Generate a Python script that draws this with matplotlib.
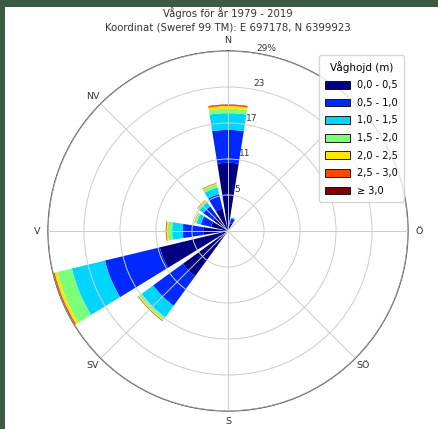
import numpy as np
import matplotlib
matplotlib.use("Agg")
import matplotlib.pyplot as plt
from matplotlib.patches import Rectangle, Patch

plt.rcParams['font.family'] = ['DejaVu Sans']

# Wave directions (16 sectors, clockwise from north)
directions = ["N", "NNÖ", "NÖ", "ÖNÖ", "Ö", "ÖSÖ", "SÖ", "SSÖ",
              "S", "SSV", "SV", "VSV", "V", "VNV", "NV", "NNV"]

# Frequency (%) per wave-height class and direction
h_00_05 = [11.0, 1.3, 0.1, 0.05, 0.05, 0.05, 0.05, 0.05, 0.1, 0.2, 9.0, 11.3, 4.0, 2.8, 3.0, 3.7]
h_05_10 = [5.3, 0.8, 0.0, 0.0, 0.0, 0.0, 0.0, 0.0, 0.0, 0.0, 5.9, 9.1, 3.3, 1.7, 1.9, 2.4]
h_10_15 = [2.7, 0.15, 0.0, 0.0, 0.0, 0.0, 0.0, 0.0, 0.0, 0.0, 2.3, 5.5, 1.7, 0.7, 0.8, 1.1]
h_15_20 = [0.7, 0.05, 0.0, 0.0, 0.0, 0.0, 0.0, 0.0, 0.0, 0.0, 0.5, 2.4, 0.7, 0.25, 0.3, 0.5]
h_20_25 = [0.45, 0.0, 0.0, 0.0, 0.0, 0.0, 0.0, 0.0, 0.0, 0.0, 0.15, 0.45, 0.2, 0.08, 0.1, 0.15]
h_25_30 = [0.2, 0.0, 0.0, 0.0, 0.0, 0.0, 0.0, 0.0, 0.0, 0.0, 0.08, 0.15, 0.1, 0.04, 0.05, 0.07]
h_30 = [0.05, 0.0, 0.0, 0.0, 0.0, 0.0, 0.0, 0.0, 0.0, 0.0, 0.03, 0.12, 0.03, 0.02, 0.02, 0.03]

classes = [h_00_05, h_05_10, h_10_15, h_15_20, h_20_25, h_25_30, h_30]
class_labels = ["0,0 - 0,5", "0,5 - 1,0", "1,0 - 1,5", "1,5 - 2,0",
                "2,0 - 2,5", "2,5 - 3,0", "≥ 3,0"]

# compass labels every 45 degrees (NÖ sits under the legend box)
compass_angles = [0, 90, 135, 180, 225, 270, 315]
compass_labels = ["N", "Ö", "SÖ", "S", "SV", "V", "NV"]

title_line1 = "Vågros för år 1979 - 2019"
title_line2 = "Koordinat (Sweref 99 TM): E 697178, N 6399923"
legend_title = "Våghojd (m)"

W, H = 438, 429
fig = plt.figure(figsize=(W / 100, H / 100), dpi=100, facecolor="#3d5a45")
fig.patches.append(Rectangle((5 / W, 0), 1 - 5 / W, 1 - 7 / H,
                             transform=fig.transFigure, facecolor="white",
                             edgecolor="none", zorder=-10))

cx, cy, R = 228, 231, 180
ax = fig.add_axes([(cx - R) / W, (H - cy - R) / H, 2 * R / W, 2 * R / H],
                  projection="polar")
ax.set_facecolor("none")
ax.set_theta_zero_location("N")
ax.set_theta_direction(-1)

n = len(directions)
theta = np.deg2rad(np.arange(n) * 360.0 / n)
width = 0.8 * 2 * np.pi / n
colors = [plt.cm.jet(v) for v in np.linspace(0, 1, len(classes))]

bottom = np.zeros(n)
for vals, col in zip(classes, colors):
    vals = np.asarray(vals)
    ax.bar(theta, vals, width=width, bottom=bottom, color=col,
           edgecolor="none", linewidth=0, zorder=1)
    bottom = bottom + vals

rmax = bottom.max()
ax.set_ylim(0, rmax)
rticks = np.linspace(0, rmax, 6)[1:]
ax.set_yticks(rticks)
ax.set_yticklabels([])
ax.set_xticks(np.deg2rad(np.arange(0, 360, 45)))
ax.set_xticklabels([])
ax.set_axisbelow(False)
ax.grid(True, color="#cccccc", linewidth=0.7)
ax.spines["polar"].set_color("#4a4a4a")
ax.spines["polar"].set_linewidth(0.9)

# radial tick labels (whole percent, last one with unit)
for i, r in enumerate(rticks):
    val = int(np.floor(r + 1e-6))
    txt = f"{val}%" if i == len(rticks) - 1 else f"{val}"
    ax.text(np.deg2rad(12), r + 1.1, txt, ha="center", va="center",
            fontsize=6.5, color="#333333", zorder=5)

# compass labels
for ang, lab in zip(compass_angles, compass_labels):
    ax.text(np.deg2rad(ang), rmax * 1.06, lab, ha="center", va="center",
            fontsize=6.8, color="#333333", clip_on=False)

fig.text(cx / W, 1 - 13 / H, title_line1, ha="center", va="center",
         fontsize=7.3, color="#333333")
fig.text(cx / W, 1 - 27 / H, title_line2, ha="center", va="center",
         fontsize=7.3, color="#333333")

handles = [Patch(facecolor=c, edgecolor="black", linewidth=0.6) for c in colors]
leg = ax.legend(handles, class_labels, title=legend_title,
                loc="upper right", bbox_to_anchor=(404 / W, 1 - 55 / H),
                bbox_transform=fig.transFigure, fontsize=7,
                title_fontsize=7.5, handlelength=2.5, handleheight=0.85,
                handletextpad=0.8, labelspacing=0.78, borderaxespad=0,
                borderpad=0.6, frameon=True)
leg.set_zorder(10)

fig.savefig("out.png", dpi=100, facecolor=fig.get_facecolor())
